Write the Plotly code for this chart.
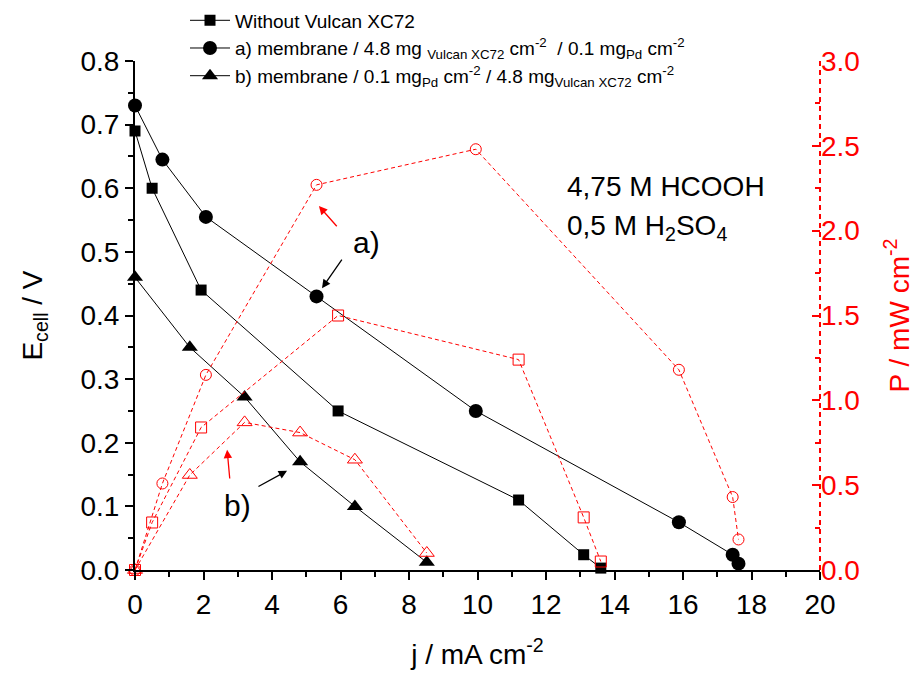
import plotly.graph_objects as go

# Current density (mA cm-2), cell voltage (V), power density (mW cm-2)
j_wo = [0, 0.5, 1.93, 5.93, 11.2, 13.1, 13.6]
E_wo = [0.69, 0.60, 0.44, 0.25, 0.11, 0.024, 0.003]
P_wo = [0, 0.28, 0.84, 1.50, 1.24, 0.31, 0.05]

j_a = [0, 0.8, 2.07, 5.3, 9.95, 15.88, 17.45, 17.62]
E_a = [0.73, 0.645, 0.555, 0.43, 0.25, 0.075, 0.024, 0.01]
P_a = [0, 0.51, 1.15, 2.27, 2.48, 1.18, 0.43, 0.18]

j_b = [0, 1.6, 3.2, 4.82, 6.42, 8.52]
E_b = [0.46, 0.35, 0.272, 0.17, 0.10, 0.012]
P_b = [0, 0.56, 0.87, 0.81, 0.65, 0.10]

names = [
    "Without Vulcan XC72",
    "a) membrane / 4.8 mg <sub>Vulcan XC72</sub> cm<sup>-2</sup>  / 0.1 mg<sub>Pd</sub> cm<sup>-2</sup>",
    "b) membrane / 0.1 mg<sub>Pd</sub> cm<sup>-2</sup> / 4.8 mg<sub>Vulcan XC72</sub> cm<sup>-2</sup>",
]

FONT = "Liberation Sans"
RED = "#ff0000"

fig = go.Figure()

series = [
    (j_wo, E_wo, P_wo, "square", 11, "square-open", 11),
    (j_a, E_a, P_a, "circle", 14, "circle-open", 11),
    (j_b, E_b, P_b, "triangle-up", 14, "triangle-up-open", 13),
]

for (j, E, P, sym, sz, osym, osz), nm in zip(series, names):
    fig.add_trace(go.Scatter(
        x=j, y=E, name=nm, mode="lines+markers",
        line=dict(color="black", width=1),
        marker=dict(symbol=sym, size=sz, color="black"),
        cliponaxis=False,
    ))
for (j, E, P, sym, sz, osym, osz) in series:
    fig.add_trace(go.Scatter(
        x=j, y=P, yaxis="y2", mode="lines+markers", showlegend=False,
        line=dict(color=RED, width=1, dash="4px,3px"),
        marker=dict(symbol=osym, size=osz, color=RED, line=dict(color=RED, width=1)),
        cliponaxis=False,
    ))

fig.update_layout(
    width=924, height=674,
    margin=dict(l=127, r=112, t=53, b=112, autoexpand=False),
    paper_bgcolor="white", plot_bgcolor="white",
    font=dict(family=FONT, color="black", size=28),
    showlegend=True,
    legend=dict(
        x=0.073, y=1.117, xanchor="left", yanchor="top",
        font=dict(size=19, family=FONT),
        bgcolor="rgba(0,0,0,0)", tracegroupgap=4, itemwidth=40,
    ),
    xaxis=dict(
        range=[0, 20], dtick=2, tick0=0,
        showline=True, linecolor="black", linewidth=2,
        ticks="outside", ticklen=8, tickwidth=1.5, tickcolor="black",
        minor=dict(dtick=1, ticks="outside", ticklen=5, tickcolor="black", tickwidth=1.5),
        showgrid=False, zeroline=False,
        tickfont=dict(size=28),
        title=dict(text="j / mA cm<sup>-2</sup>", font=dict(size=28), standoff=26),
    ),
    yaxis=dict(
        range=[0, 0.8], dtick=0.1, tick0=0, tickformat=".1f",
        showline=True, linecolor="black", linewidth=2,
        ticks="outside", ticklen=8, tickwidth=1.5, tickcolor="black",
        minor=dict(dtick=0.05, ticks="outside", ticklen=5, tickcolor="black", tickwidth=1.5),
        showgrid=False, zeroline=False,
        tickfont=dict(size=28),
        title=dict(text="E<sub>cell</sub> / V", font=dict(size=28), standoff=30),
    ),
    yaxis2=dict(
        overlaying="y", side="right",
        range=[0, 3], dtick=0.5, tick0=0, tickformat=".1f",
        showline=False,
        ticks="inside", ticklen=8, tickwidth=2, tickcolor=RED,
        minor=dict(dtick=0.25, ticks="inside", ticklen=5, tickcolor=RED, tickwidth=2),
        showgrid=False, zeroline=False,
        tickfont=dict(size=28, color=RED),
        title=dict(text="P / mW cm<sup>-2</sup>", font=dict(size=28, color=RED), standoff=30),
    ),
)

# dashed red right axis line
fig.add_shape(type="line", xref="paper", yref="paper", x0=1, x1=1, y0=0, y1=1,
              line=dict(color=RED, width=2, dash="5px,4px"))

# annotations
fig.add_annotation(x=12.55, y=0.602, xref="x", yref="y", text="4,75 M HCOOH",
                   showarrow=False, xanchor="left", yanchor="middle", font=dict(size=28))
fig.add_annotation(x=12.55, y=0.538, xref="x", yref="y", text="0,5 M H<sub>2</sub>SO<sub>4</sub>",
                   showarrow=False, xanchor="left", yanchor="middle", font=dict(size=28))
fig.add_annotation(x=6.75, y=0.515, xref="x", yref="y", text="a)",
                   showarrow=False, font=dict(size=30))
fig.add_annotation(x=3.0, y=0.102, xref="x", yref="y", text="b)",
                   showarrow=False, font=dict(size=30))

arrows = [
    (5.46, 0.443, 6.07, 0.49, "black"),
    (5.37, 0.572, 5.93, 0.538, RED),
    (4.44, 0.156, 3.56, 0.130, "black"),
    (2.69, 0.189, 2.77, 0.1415, RED),
]
for hx, hy, tx, ty, c in arrows:
    fig.add_annotation(x=hx, y=hy, ax=tx, ay=ty, xref="x", yref="y", axref="x", ayref="y",
                       text="", showarrow=True, arrowhead=2, arrowsize=1.3, arrowwidth=1.3,
                       arrowcolor=c)

fig.write_html("out.html")
